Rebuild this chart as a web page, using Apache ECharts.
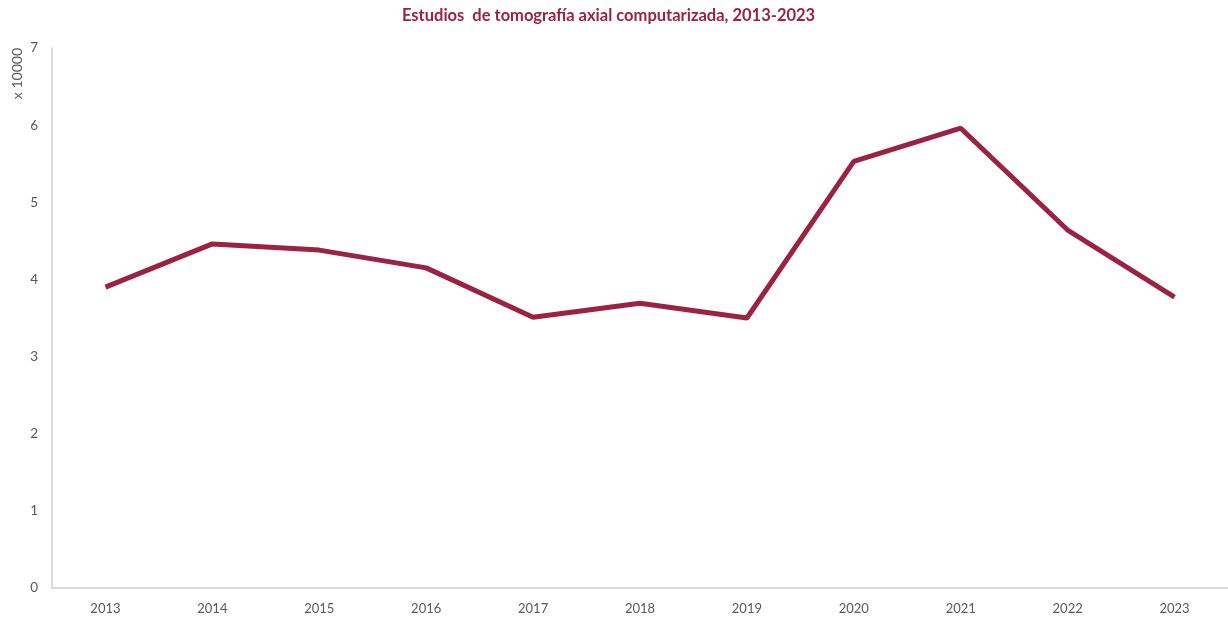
<!DOCTYPE html>
<html><head><meta charset="utf-8">
<script src="https://cdn.jsdelivr.net/npm/echarts@6/dist/echarts.min.js"></script>
<style>html,body{margin:0;padding:0;background:#fff}#c{width:1228px;height:620px}</style>
</head><body><div id="c"></div>
<script>
const years = ['2013','2014','2015','2016','2017','2018','2019','2020','2021','2022','2023'];
const estudios = [3.90, 4.46, 4.38, 4.15, 3.51, 3.69, 3.50, 5.53, 5.96, 4.64, 3.77];
const yTicks = [0, 1, 2, 3, 4, 5, 6, 7];
const chart = echarts.init(document.getElementById('c'));
const font = 'Lato, "Open Sans", sans-serif';
chart.setOption({
  animation: false,
  title: {
    text: 'Estudios  de tomografía axial computarizada, 2013-2023',
    left: 397, top: 2,
    textStyle: {color: '#9B2242', fontSize: 16.5, fontWeight: 'bold', fontFamily: font}
  },
  grid: {left: 52, right: 0, top: 48, bottom: 32, containLabel: false},
  xAxis: {
    type: 'category', data: years, boundaryGap: true,
    axisLine: {lineStyle: {color: '#d0d0d0', width: 1.5}},
    axisTick: {show: false},
    axisLabel: {color: '#595959', fontSize: 13, fontFamily: font, margin: 14}
  },
  yAxis: {
    type: 'value', min: yTicks[0], max: yTicks[yTicks.length-1], interval: 1,
    name: 'x 10000', nameLocation: 'end', nameRotate: 90, nameGap: 0,
    nameTextStyle: {color: '#595959', fontSize: 14, fontFamily: font, align: 'right', verticalAlign: 'bottom', padding: [0, 0, 28, 0]},
    axisLine: {show: true, lineStyle: {color: '#d0d0d0', width: 1.5}},
    axisTick: {show: false},
    splitLine: {show: false},
    axisLabel: {color: '#595959', fontSize: 13.5, fontFamily: font, margin: 14}
  },
  series: [{
    type: 'line', data: estudios, symbol: 'none',
    lineStyle: {color: '#9B2242', width: 5}
  }]
});
</script></body></html>
